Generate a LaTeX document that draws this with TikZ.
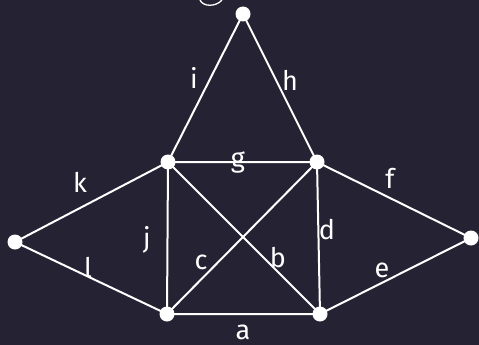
\documentclass[tikz,border=0pt]{standalone}
\usepackage{fontspec}
\setmainfont{Fira Sans}
\definecolor{bg}{RGB}{37,34,51}
\tikzset{
  vert/.style={circle,fill=white,inner sep=0pt,minimum size=15pt},
  edge/.style={draw=white,line width=2pt},
  lab/.style={text=white,font=\fontsize{27}{27}\selectfont,inner sep=0pt}
}
\begin{document}
\begin{tikzpicture}[x=1pt,y=-1pt]
\fill[bg] (0,0) rectangle (479,345);
\useasboundingbox (0,0) rectangle (479,345);
\coordinate (T) at (243,14);
\coordinate (TL) at (168,162);
\coordinate (TR) at (317,162);
\coordinate (BL) at (167,314);
\coordinate (BR) at (320,314);
\coordinate (L) at (15,242);
\coordinate (R) at (471,238);
\draw[edge] (T)--(TL) (T)--(TR) (TL)--(TR) (TL)--(BL) (TR)--(BR) (BL)--(BR)
  (TL)--(BR) (TR)--(BL) (L)--(TL) (L)--(BL) (R)--(TR) (R)--(BR);
\foreach \v in {T,TL,TR,BL,BR,L,R} \node[vert] at (\v) {};
\draw[white,line width=1.3pt] (200,0) .. controls (203,7) and (216,7) .. (222,0);
\node[lab] (li) at (194,78) {i};
\node[lab] (lh) at (290,80) {h};
\node[lab] (lg) at (238,162) {g};
\node[lab] (lk) at (80,182) {k};
\node[lab] (lf) at (390,178) {f};
\node[lab] (lj) at (147,240) {j};
\node[lab] (ld) at (327,230) {d};
\node[lab] (lc) at (201,262) {c};
\node[lab] (lb) at (278,258) {b};
\node[lab] (ll) at (88,268) {l};
\node[lab] (le) at (382,270) {e};
\node[lab] (la) at (243,332) {a};
\end{tikzpicture}
\end{document}
